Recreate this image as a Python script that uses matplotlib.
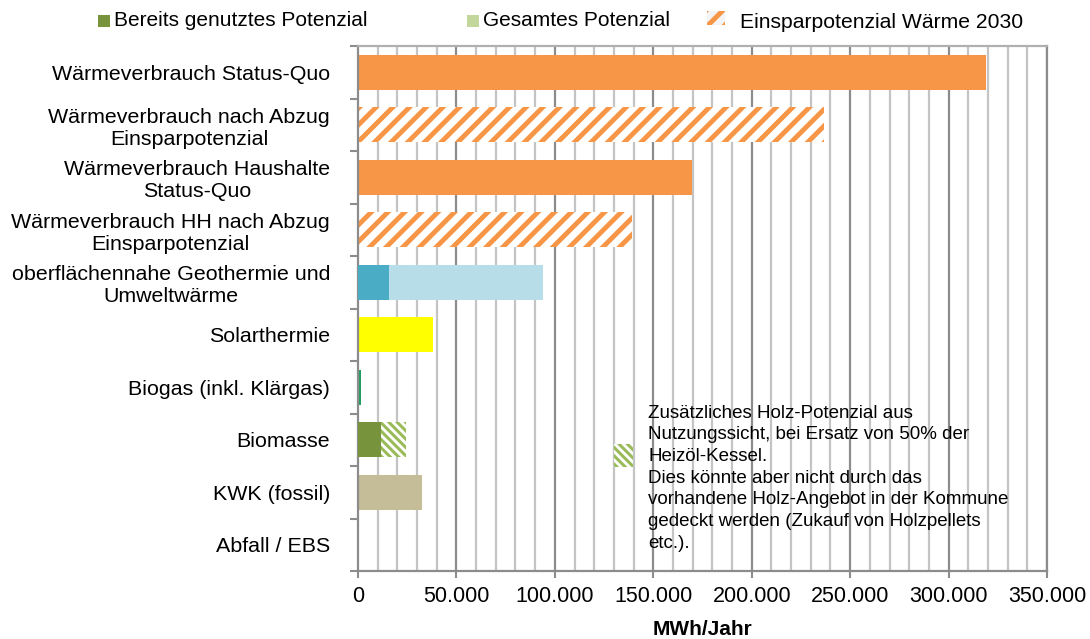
import matplotlib
matplotlib.use("Agg")
import matplotlib.pyplot as plt
from matplotlib.patches import Rectangle
import numpy as np

plt.rcParams['font.family'] = ['Liberation Sans', 'DejaVu Sans']

categories = [
    "Wärmeverbrauch Status-Quo",
    "Wärmeverbrauch nach Abzug\nEinsparpotenzial",
    "Wärmeverbrauch Haushalte\nStatus-Quo",
    "Wärmeverbrauch HH nach Abzug\nEinsparpotenzial",
    "oberflächennahe Geothermie und\nUmweltwärme",
    "Solarthermie",
    "Biogas (inkl. Klärgas)",
    "Biomasse",
    "KWK (fossil)",
    "Abfall / EBS",
]

# MWh/Jahr
verbrauch_status_quo = [319000, 0, 169700, 0, 0, 0, 0, 0, 0, 0]
verbrauch_nach_einsparung = [0, 236700, 0, 139200, 0, 0, 0, 0, 0, 0]
gesamtes_potenzial = [0, 0, 0, 0, 94000, 38100, 1600, 0, 32500, 0]
genutztes_potenzial = [0, 0, 0, 0, 15700, 0, 0, 11700, 0, 0]
holz_zusatz = [0, 0, 0, 0, 0, 0, 0, 12700, 0, 0]

gesamt_colors = ['#FFFFFF'] * 4 + ['#B7DEE8', '#FFFF00', '#1E9E60', '#FFFFFF', '#C4BD97', '#FFFFFF']
genutzt_colors = ['#FFFFFF'] * 4 + ['#4BACC6', '#FFFFFF', '#FFFFFF', '#77933C', '#FFFFFF', '#FFFFFF']

xticks = np.arange(0, 350001, 50000)
xticklabels = ["0", "50.000", "100.000", "150.000", "200.000", "250.000", "300.000", "350.000"]

ORANGE = '#F79646'
GREEN_HATCH = '#9BBB59'

fig = plt.figure(figsize=(10.9, 6.39), dpi=100)
ax = fig.add_axes([358 / 1090, 1 - 571 / 639, (1047 - 358) / 1090, (571 - 46) / 639])

y = np.arange(len(categories))
h = 0.66

# grid lines
for xv in np.arange(10000, 350001, 10000):
    major = xv % 50000 == 0
    ax.axvline(xv, color='#8c8c8c' if major else '#c4c4c4', lw=1.6, zorder=0)

ax.barh(y, verbrauch_status_quo, height=h, color=ORANGE, lw=0, zorder=2)
hb = ax.barh(y, verbrauch_nach_einsparung, height=h, color='white', edgecolor=ORANGE,
             hatch='//', lw=0, zorder=2)
ax.barh(y, gesamtes_potenzial, height=h, color=gesamt_colors, lw=0, zorder=2)
ax.barh(y, genutztes_potenzial, height=h, color=genutzt_colors, lw=0, zorder=3)
gb = ax.barh(y, holz_zusatz, left=genutztes_potenzial, height=h, color='white',
             edgecolor=GREEN_HATCH, hatch='\\\\\\\\', lw=0, zorder=3)
for p in hb:
    if hasattr(p, 'set_hatch_linewidth'):
        p.set_hatch_linewidth(3.5)
for p in gb:
    if hasattr(p, 'set_hatch_linewidth'):
        p.set_hatch_linewidth(2.2)

ax.set_xlim(0, 350000)
ax.set_ylim(len(categories) - 0.5, -0.5)

ax.set_xticks(xticks)
ax.set_xticklabels(xticklabels, fontsize=15.5)
ax.tick_params(axis='x', length=5, width=1.5, color='#8c8c8c', pad=6)

ax.set_yticks(y)
ax.set_yticklabels(categories, fontsize=15.4, multialignment='center')
ax.tick_params(axis='y', which='major', length=0, pad=20)
ax.set_yticks(np.arange(-0.5, len(categories) + 0.5, 1.0), minor=True)
ax.tick_params(axis='y', which='minor', length=6, width=1.5, color='#8c8c8c')
for lbl in ax.get_yticklabels():
    lbl.set_horizontalalignment('right')

ax.set_xlabel("MWh/Jahr", fontsize=15, fontweight='bold', labelpad=9)

for s in ['left', 'bottom']:
    ax.spines[s].set_color('#8c8c8c')
    ax.spines[s].set_linewidth(1.6)
ax.spines['top'].set_color('#b0b0b0')
ax.spines['top'].set_linewidth(1.6)
ax.spines['right'].set_color('#8c8c8c')
ax.spines['right'].set_linewidth(1.6)

# annotation for additional wood potential
pa = Rectangle((0.372, 0.198), 0.027, 0.044, transform=ax.transAxes, facecolor='white',
               edgecolor=GREEN_HATCH, hatch='\\\\\\\\', lw=0, zorder=4)
if hasattr(pa, 'set_hatch_linewidth'):
    pa.set_hatch_linewidth(2.2)
ax.add_patch(pa)
ax.text(0.421, 0.177,
        "Zusätzliches Holz-Potenzial aus\nNutzungssicht, bei Ersatz von 50% der\nHeizöl-Kessel.\n"
        "Dies könnte aber nicht durch das\nvorhandene Holz-Angebot in der Kommune\n"
        "gedeckt werden (Zukauf von Holzpellets\netc.).",
        transform=ax.transAxes, fontsize=13.5, ha='left', va='center', linespacing=1.36, zorder=5)

# legend (manual, figure pixel layout)
W, H = 1090, 639
def fx(px): return px / W
def fy(py): return 1 - py / H

fig.patches.append(Rectangle((fx(98), fy(27)), 12 / W, 12 / H, transform=fig.transFigure,
                             facecolor='#77933C', lw=0, figure=fig))
fig.text(fx(114), fy(20), "Bereits genutztes Potenzial", fontsize=15, va='center', ha='left')
fig.patches.append(Rectangle((fx(467), fy(27)), 12 / W, 12 / H, transform=fig.transFigure,
                             facecolor='#C3D69B', lw=0, figure=fig))
fig.text(fx(483), fy(20), "Gesamtes Potenzial", fontsize=15, va='center', ha='left')
lp = Rectangle((fx(707), fy(25)), 18 / W, 14 / H, transform=fig.transFigure,
               facecolor='#f4f4f4', edgecolor=ORANGE, hatch='//', lw=0, figure=fig)
if hasattr(lp, 'set_hatch_linewidth'):
    lp.set_hatch_linewidth(3.5)
fig.patches.append(lp)
fig.text(fx(740), fy(23), "Einsparpotenzial Wärme 2030", fontsize=15.2, va='center', ha='left')

fig.savefig("out.png", dpi=100)
